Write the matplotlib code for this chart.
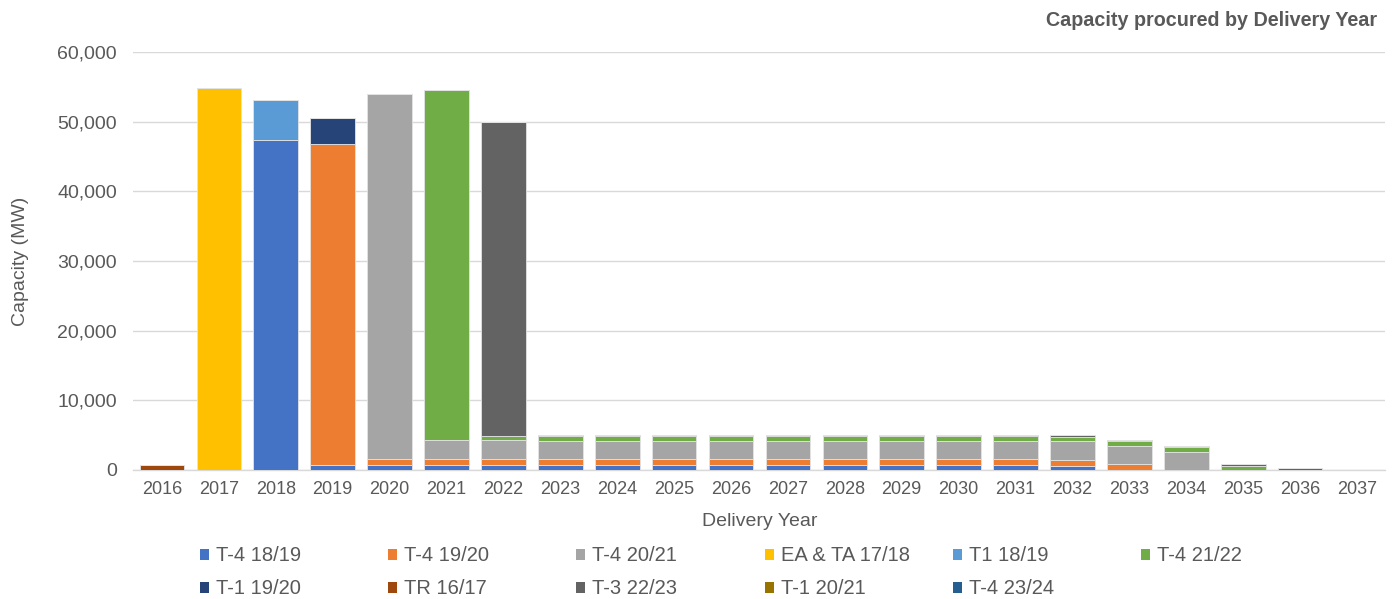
import matplotlib.pyplot as plt
from matplotlib.patches import Patch

plt.rcParams['font.family'] = ['Liberation Sans', 'DejaVu Sans']

years = [str(y) for y in range(2016, 2038)]

# capacity (MW) by auction, per delivery year 2016..2037
t4_1819 = [0, 0, 47400, 700, 700, 700, 700] + [700] * 9 + [620, 0, 0, 0, 0, 0]
t4_1920 = [0, 0, 0, 46080, 860, 860, 860] + [820] * 9 + [860, 860, 0, 0, 0, 0]
t4_2021 = [0, 0, 0, 0, 52440, 2700, 2700] + [2680] * 9 + [2630, 2580, 2580, 0, 0, 0]
ea_ta_1718 = [0, 54800] + [0] * 20
t1_1819 = [0, 0, 5700] + [0] * 19
t4_2122 = [0, 0, 0, 0, 0, 50270, 570] + [670] * 9 + [620, 670, 670, 620, 0, 0]
t1_1920 = [0, 0, 0, 3730] + [0] * 18
tr_1617 = [650] + [0] * 21
t3_2223 = [0, 0, 0, 0, 0, 0, 45170] + [140] * 9 + [240, 200, 200, 240, 220, 0]
t1_2021 = [0] * 22
t4_2324 = [0] * 22

series = [
    ('T-4 18/19', t4_1819, '#4472C4'),
    ('T-4 19/20', t4_1920, '#ED7D31'),
    ('T-4 20/21', t4_2021, '#A5A5A5'),
    ('EA & TA 17/18', ea_ta_1718, '#FFC000'),
    ('T1 18/19', t1_1819, '#5B9BD5'),
    ('T-4 21/22', t4_2122, '#70AD47'),
    ('T-1 19/20', t1_1920, '#264478'),
    ('TR 16/17', tr_1617, '#9E480E'),
    ('T-3 22/23', t3_2223, '#636363'),
    ('T-1 20/21', t1_2021, '#997300'),
    ('T-4 23/24', t4_2324, '#255E91'),
]

text_col = '#595959'

fig = plt.figure(figsize=(13.92, 5.99), dpi=100)
ax = fig.add_axes([0.0959, 0.2154, 0.8994, 0.6978])

x = range(len(years))
bottom = [0] * len(years)
for name, vals, col in series:
    ax.bar(x, vals, 0.785, bottom=bottom, color=col, edgecolor='#e3e3e3',
           linewidth=0.6, label=name, zorder=3)
    bottom = [b + v for b, v in zip(bottom, vals)]

ax.set_xlim(-0.5, len(years) - 0.5)
ax.set_ylim(0, 60000)
ax.set_yticks(range(0, 60001, 10000))
ax.set_yticklabels([f'{v:,}' for v in range(0, 60001, 10000)])
ax.set_xticks(list(x))
ax.set_xticklabels(years)
ax.tick_params(axis='both', length=0, colors=text_col)
ax.tick_params(axis='x', pad=8, labelsize=13)
ax.tick_params(axis='y', pad=12, labelsize=14)
ax.grid(axis='y', color='#d9d9d9', linewidth=1, zorder=0)
for s in ['top', 'right', 'left']:
    ax.spines[s].set_visible(False)
ax.spines['bottom'].set_color('#d9d9d9')
ax.spines['bottom'].set_linewidth(1)

ax.set_xlabel('Delivery Year', fontsize=14, color=text_col, labelpad=11)
ax.set_ylabel('Capacity (MW)', fontsize=14, color=text_col, labelpad=20)

fig.text(0.9895, 0.965, 'Capacity procured by Delivery Year', ha='right',
         va='center', fontsize=14.2, fontweight='bold', color=text_col)

# legend laid out on a fixed grid like the original
col_x = [200 / 1392, 388 / 1392, 576 / 1392, 765 / 1392, 953 / 1392, 1141 / 1392]
row_y = [0.0718, 0.0167]
for i, (name, vals, col) in enumerate(series):
    r, c = divmod(i, 6)
    h = Patch(facecolor=col, edgecolor='none')
    leg = fig.legend([h], [name], loc='center left',
                     bbox_to_anchor=(col_x[c], row_y[r]),
                     frameon=False, fontsize=14.5, handlelength=0.45,
                     handleheight=0.45, handletextpad=0.33, borderpad=0,
                     borderaxespad=0)
    for t in leg.get_texts():
        t.set_color(text_col)

fig.savefig('out.png', dpi=100)
